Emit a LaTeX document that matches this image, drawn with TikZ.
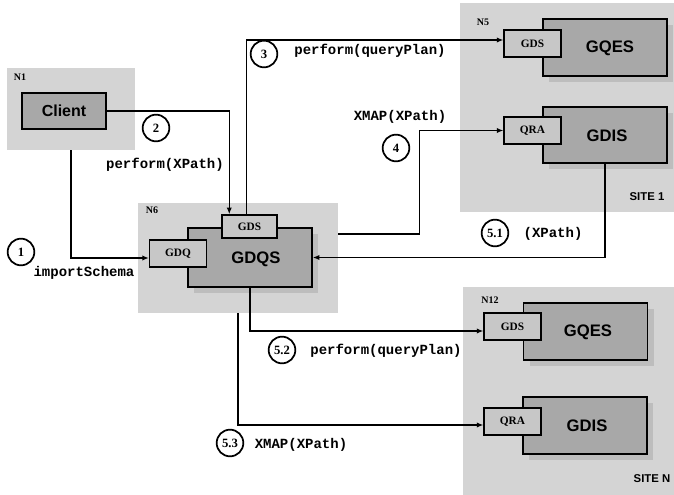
\documentclass[tikz,border=0pt]{standalone}
\usepackage{fontspec}
\setmainfont{Liberation Serif}
\setmonofont{Liberation Mono}
\newfontfamily\sansb{Liberation Sans}
\usetikzlibrary{fit,calc,shadows,arrows.meta}
\definecolor{regc}{gray}{0.83}
\definecolor{bigc}{gray}{0.66}
\definecolor{shadc}{gray}{0.74}
\definecolor{smallc}{gray}{0.78}
\tikzset{
  region/.style={fill=regc, draw=none, inner sep=0pt},
  bigbox/.style={draw=black, line width=1.1pt, fill=bigc, inner sep=0pt,
    minimum width=93pt, minimum height=42.75pt,
    general shadow={fill=shadc, shadow xshift=4.5pt, shadow yshift=-4.5pt}},
  bigtext/.style={font=\sansb\bfseries\fontsize{12.5}{13}\selectfont, inner sep=0pt},
  clientbox/.style={draw=black, line width=1.1pt, fill=bigc, inner sep=0pt,
    minimum width=63pt, minimum height=27pt,
    font=\sansb\bfseries\fontsize{12}{12}\selectfont},
  smallbox/.style={draw=black, line width=1.1pt, fill=smallc, inner sep=0pt,
    minimum width=42.5pt, minimum height=20.25pt,
    font=\bfseries\fontsize{8.5}{9}\selectfont},
  num/.style={circle, draw=black, line width=1.3pt, fill=white, minimum size=20pt,
    inner sep=0pt, font=\bfseries\fontsize{9.5}{10}\selectfont},
  code/.style={font=\ttfamily\bfseries\fontsize{10.5}{11}\selectfont, inner sep=0pt},
  nlabel/.style={font=\bfseries\fontsize{7.5}{8}\selectfont, inner sep=0pt},
  sitelabel/.style={font=\sansb\bfseries\fontsize{8.5}{9}\selectfont, inner sep=0pt},
  arr/.style={line width=1.1pt, -{Latex[length=5pt,width=4pt]}},
}
\begin{document}
\begin{tikzpicture}[x=0.75pt,y=-0.75pt]
\fill[white] (0,0) rectangle (674,495);
\useasboundingbox (0,0) rectangle (674,495);

% regions
\node[region, fit={(7,68) (135,150)}] (n1) {};
\node[region, fit={(138,203) (338,313)}] (n6) {};
\node[region, fit={(460,3) (674,212)}] (n5) {};
\node[region, fit={(463,287) (674,495)}] (n12) {};

\node[nlabel] (n1l) at (20,77) {N1};
\node[nlabel] (n6l) at (152,210) {N6};
\node[nlabel] (n5l) at (483,22) {N5};
\node[nlabel] (n12l) at (490,300) {N12};
\node[sitelabel] (site1) at (647,197) {SITE 1};
\node[sitelabel] (siten) at (652,479) {SITE N};

% main boxes
\node[clientbox] (client) at (64,111) {Client};
\node[bigbox, minimum height=44.25pt] (gdqs) at (250,257.5) {};
\node[bigtext] (gdqst) at (256,259) {GDQS};
\node[bigbox] (gqes5) at (605,47.5) {};
\node[bigtext] (gqes5t) at (610,48) {GQES};
\node[bigbox, minimum height=42pt] (gdis5) at (605,135) {};
\node[bigtext] (gdis5t) at (607,136) {GDIS};
\node[bigbox] (gqes12) at (585.5,331.5) {};
\node[bigtext] (gqes12t) at (588,332) {GQES};
\node[bigbox] (gdis12) at (585,425.5) {};
\node[bigtext] (gdis12t) at (587,426) {GDIS};

% small boxes
\node[smallbox, minimum width=41.25pt, minimum height=17.25pt] (gds6) at (249.5,226.5) {GDS};
\node[smallbox] (gdq) at (178,253.5) {GDQ};
\node[smallbox] (gds5) at (532.5,43.5) {GDS};
\node[smallbox] (qra5) at (532.5,130.5) {QRA};
\node[smallbox] (gds12) at (512.5,326.5) {GDS};
\node[smallbox] (qra12) at (512.5,421.5) {QRA};

% connectors
\draw[arr] (n1.south) |- ($(gdq.west)+(0,4.5)$);
\draw[arr] (client.east) -| ($(gds6.north west)+(8,0)$);
\draw[arr] ($(gds6.north west)+(25,0)$) |- ($(gds5.west)+(0,-3.5)$);
\draw[arr] ($(n6.east)+(0,-24)$) -| ($(qra5.west)+(-84,0)$) -- (qra5.west);
\draw[arr] (gdis5.south) |- (gdqs.east);
\draw[arr] (gdqs.south) |- ($(gds12.west)+(0,4.5)$);
\draw[arr] (n6.south) |- ($(qra12.west)+(0,3.5)$);

% step numbers and labels
\node[num] (c1) at (21,252) {1};
\node[code] (l1) at (84,273) {importSchema};
\node[num] (c2) at (156,128) {2};
\node[code] (l2) at (165,165) {perform(XPath)};
\node[num] (c3) at (264,54) {3};
\node[code] (l3) at (370,51) {perform(queryPlan)};
\node[num] (c4) at (396,148) {4};
\node[code] (l4) at (400,117) {XMAP(XPath)};
\node[num] (c51) at (495,233) {5.1};
\node[code] (l51) at (553,234) {(XPath)};
\node[num] (c52) at (282,350) {5.2};
\node[code] (l52) at (386,351) {perform(queryPlan)};
\node[num] (c53) at (230,443) {5.3};
\node[code] (l53) at (301,445) {XMAP(XPath)};
\end{tikzpicture}
\end{document}
